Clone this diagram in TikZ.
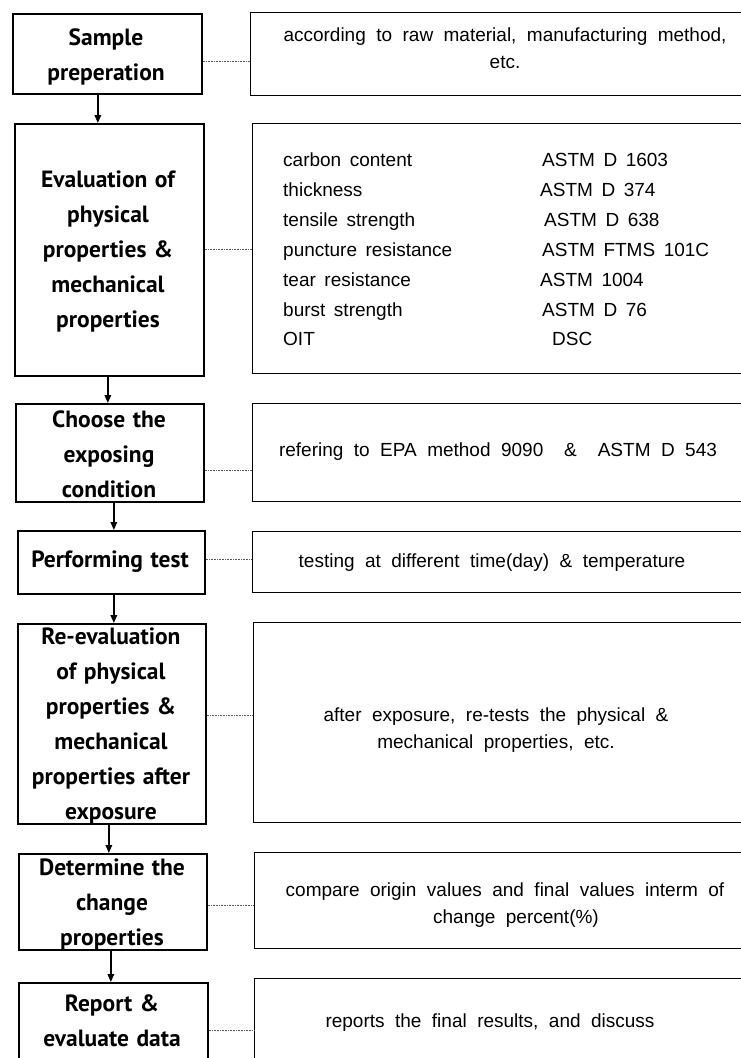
\documentclass[tikz,border=0pt]{standalone}
\usepackage{fontspec}
\setmainfont{Liberation Sans}
\newfontfamily\boxfont{PT Sans}
\usetikzlibrary{arrows.meta}
\newcommand\myLfont{\boxfont\bfseries\fontsize{23.5}{35}\selectfont\spaceskip=0.32em\relax}
\newcommand\myRfont{\fontsize{19}{27}\selectfont\spaceskip=0.55em\relax}
\newcommand\myTfont{\fontsize{19}{27}\selectfont\spaceskip=0.45em\relax}
\begin{document}
\begin{tikzpicture}[x=1pt,y=-1pt,
  lbox/.style={draw, line width=1.7pt, anchor=north west, inner sep=0pt},
  rbox/.style={draw, line width=1.2pt, anchor=north west, inner sep=0pt},
  ltext/.style={font=\myLfont, align=center, inner sep=0pt},
  rtext/.style={font=\myRfont, align=center, inner sep=0pt},
  ttext/.style={font=\myTfont, anchor=base west, inner sep=0pt},
  flow/.style={line width=1.6pt, -{Triangle[length=8pt,width=6.5pt]}},
  dots/.style={line width=0.6pt, densely dotted, black!65}
]
\useasboundingbox (0,0) rectangle (741,1058);
\clip (0,0) rectangle (741,1058);

% left boxes
\node[lbox, minimum width=189pt, minimum height=80pt]  (L1) at (12,13)  {};
\node[lbox, minimum width=189pt, minimum height=252pt] (L2) at (14,123) {};
\node[lbox, minimum width=188pt, minimum height=98pt]  (L3) at (15,403) {};
\node[lbox, minimum width=187pt, minimum height=63pt]  (L4) at (17,530) {};
\node[lbox, minimum width=188pt, minimum height=200pt] (L5) at (17,623) {};
\node[lbox, minimum width=188pt, minimum height=96pt]  (L6) at (18,853) {};
\node[lbox, minimum width=189pt, minimum height=110pt] (L7) at (18,982) {};

\node[ltext] (T1) at (106,57)  {Sample\\preperation};
\node[ltext] (T2) at (108,251) {Evaluation of\\physical\\properties \&\\mechanical\\properties};
\node[ltext] (T3) at (109,454) {Choose the\\exposing\\condition};
\node[ltext] (T4) at (110,562) {Performing test};
\node[ltext] (T5) at (111,726) {Re-evaluation\\of physical\\properties \&\\mechanical\\properties after\\exposure};
\node[ltext] (T6) at (112,904) {Determine the\\change\\properties};
\node[ltext] (T7) at (112,1021) {Report \&\\evaluate data};

% right boxes
\node[rbox, minimum width=520pt, minimum height=83pt]  (R1) at (250,12)  {};
\node[rbox, minimum width=520pt, minimum height=250pt] (R2) at (252,123) {};
\node[rbox, minimum width=520pt, minimum height=98pt]  (R3) at (252,403) {};
\node[rbox, minimum width=520pt, minimum height=61pt]  (R4) at (252,531) {};
\node[rbox, minimum width=520pt, minimum height=200pt] (R5) at (253,622) {};
\node[rbox, minimum width=520pt, minimum height=96pt]  (R6) at (254,852) {};
\node[rbox, minimum width=520pt, minimum height=110pt] (R7) at (254,978) {};

\node[rtext] (S1) at (505,48)  {according to raw material, manufacturing method,\\etc.};
\node[ttext] (a1) at (283,166) {carbon content};
\node[ttext] (a2) at (283,196) {thickness};
\node[ttext] (a3) at (283,226) {tensile strength};
\node[ttext] (a4) at (283,256) {puncture resistance};
\node[ttext] (a5) at (283,286) {tear resistance};
\node[ttext] (a6) at (283,316) {burst strength};
\node[ttext] (a7) at (283,345) {OIT};
\node[ttext] (b1) at (542,166) {ASTM D 1603};
\node[ttext] (b2) at (540,196) {ASTM D 374};
\node[ttext] (b3) at (544,226) {ASTM D 638};
\node[ttext] (b4) at (542,256) {ASTM FTMS 101C};
\node[ttext] (b5) at (540,286) {ASTM 1004};
\node[ttext] (b6) at (542,316) {ASTM D 76};
\node[ttext] (b7) at (552,345) {DSC};
\node[rtext] (S3) at (498,452) {refering to EPA method 9090 \ \& \ ASTM D 543};
\node[rtext] (S4) at (492,563) {testing at different time(day) \& temperature};
\node[rtext] (S5) at (496,730) {after exposure, re-tests the physical \&\\mechanical properties, etc.};
\node[rtext] (S6) at (505,905) {compare origin values and final values interm of\\\hspace*{22pt}change percent(\%)};
\node[rtext] (S7) at (490,1023) {reports the final results, and discuss};

% flow arrows
\draw[flow] ([xshift=-9.5pt]L1.south) -- ([xshift=-9.5pt]L1.south |- L2.north);
\draw[flow] ([xshift=-1.5pt]L2.south) -- ([xshift=-1.5pt]L2.south |- L3.north);
\draw[flow] ([xshift=4pt]L3.south) -- ([xshift=4pt]L3.south |- L4.north);
\draw[flow] ([xshift=2.5pt]L4.south) -- ([xshift=2.5pt]L4.south |- L5.north);
\draw[flow] ([xshift=-3pt]L5.south) -- ([xshift=-3pt]L5.south |- L6.north);
\draw[flow] ([xshift=-2pt]L6.south) -- ([xshift=-2pt]L6.south |- L7.north);

% dotted connectors
\draw[dots] (L1.east |- 0,61)   -- (R1.west |- 0,61);
\draw[dots] (L2.east |- 0,249)  -- (R2.west |- 0,249);
\draw[dots] (L3.east |- 0,470)  -- (R3.west |- 0,470);
\draw[dots] (L4.east |- 0,559)  -- (R4.west |- 0,559);
\draw[dots] (L5.east |- 0,715)  -- (R5.west |- 0,715);
\draw[dots] (L6.east |- 0,905)  -- (R6.west |- 0,905);
\draw[dots] (L7.east |- 0,1030) -- (R7.west |- 0,1030);
\end{tikzpicture}
\end{document}
